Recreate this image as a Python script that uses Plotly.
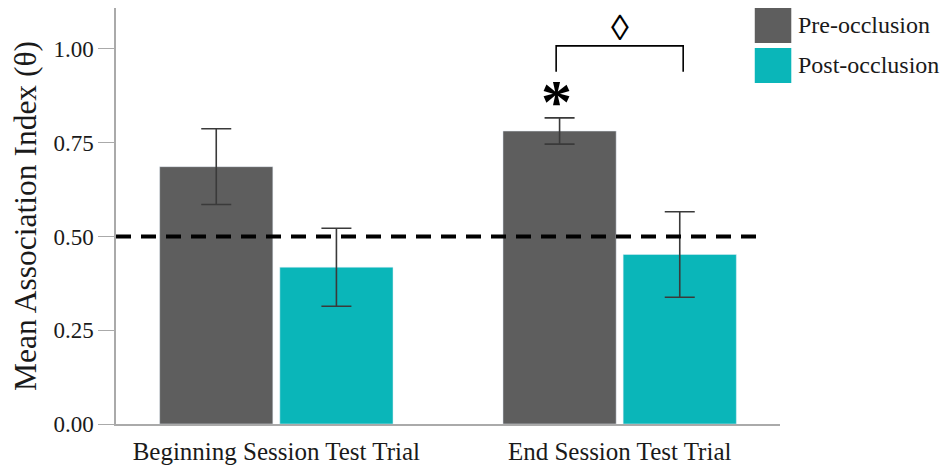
import plotly.graph_objects as go

categories = ["Beginning Session Test Trial", "End Session Test Trial"]
pre_values = [0.686, 0.781]
pre_errors = [0.101, 0.035]
post_values = [0.418, 0.452]
post_errors = [0.104, 0.114]
series_names = ["Pre-occlusion", "Post-occlusion"]
y_ticks = [0.0, 0.25, 0.5, 0.75, 1.0]
chance_level = 0.5

PRE_COLOR = "#5e5e5e"
POST_COLOR = "#0ab6b9"
FONT = "Liberation Serif, Times New Roman, serif"
TXT = "#1a1a1a"

fig = go.Figure()
fig.add_trace(go.Bar(
    x=categories, y=pre_values, name=series_names[0], marker_color=PRE_COLOR,
    error_y=dict(type="data", array=pre_errors, color="#3a3a3a", thickness=1.6, width=15),
    showlegend=False,
))
fig.add_trace(go.Bar(
    x=categories, y=post_values, name=series_names[1], marker_color=POST_COLOR,
    error_y=dict(type="data", array=post_errors, color="#3a3a3a", thickness=1.6, width=15),
    showlegend=False,
))

# chance line
fig.add_shape(type="line", xref="x", yref="y", x0=-0.467, x1=1.416, y0=chance_level, y1=chance_level,
              line=dict(color="black", width=4, dash="15px,10px"))

# significance bracket
bx0, bx1 = 0.815, 1.185
by_top, by_bot = 1.008, 0.939
fig.add_shape(type="path", xref="x", yref="y",
              path=f"M {bx0},{by_bot} L {bx0},{by_top} L {bx1},{by_top} L {bx1},{by_bot}",
              line=dict(color="black", width=1.6))
fig.add_annotation(x=(bx0 + bx1) / 2, y=1.056, xref="x", yref="y", text="◊", showarrow=False,
                   font=dict(family=FONT, size=36, color="black"), yanchor="middle")
fig.add_annotation(x=bx0, y=0.86, xref="x", yref="y", text="<b>*</b>", showarrow=False,
                   font=dict(family=FONT, size=62, color="black"), yanchor="middle")

# custom legend (paper coords)
legend_items = [(series_names[0], PRE_COLOR, 1.0, 0.916), (series_names[1], POST_COLOR, 0.904, 0.820)]
for name, col, y1, y0 in legend_items:
    fig.add_shape(type="rect", xref="paper", yref="paper", x0=0.962, x1=1.017, y0=y0, y1=y1,
                  fillcolor=col, line=dict(width=0))
    fig.add_annotation(xref="paper", yref="paper", x=1.0245, y=(y0 + y1) / 2, text=name, showarrow=False,
                       xanchor="left", yanchor="middle", font=dict(family=FONT, size=24, color=TXT))

fig.update_layout(
    width=941, height=457,
    margin=dict(l=108, r=169, t=0, b=41),
    plot_bgcolor="white", paper_bgcolor="white",
    barmode="group", bargap=0.30, bargroupgap=0.058,
    font=dict(family=FONT, color=TXT),
)
fig.update_xaxes(type="category", range=[-0.467, 1.467], showline=True, linecolor="#aaaaaa", linewidth=1.5,
                 ticks="", showgrid=False, zeroline=False, automargin=False, ticklabelstandoff=4,
                 tickfont=dict(family=FONT, size=25, color=TXT))
fig.update_yaxes(range=[0, 1.109], tickvals=y_ticks, tickformat=".2f", showline=True, linecolor="#aaaaaa",
                 linewidth=1.5, ticks="outside", ticklen=16, tickcolor="#aaaaaa", tickwidth=1.2,
                 showgrid=False, zeroline=False, automargin=False,
                 tickfont=dict(family=FONT, size=23, color=TXT),
                 title=dict(text="Mean Association Index (θ)", font=dict(family=FONT, size=31.5, color=TXT),
                            standoff=8))

fig.write_html("out.html")
